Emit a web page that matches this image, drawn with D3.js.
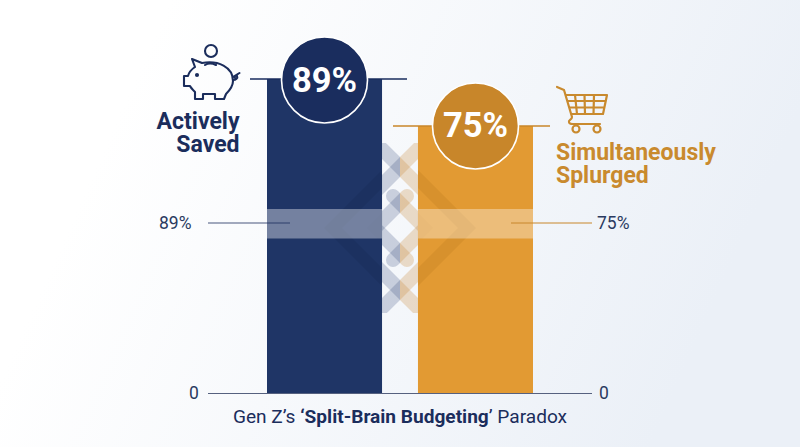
<!DOCTYPE html>
<html><head><meta charset="utf-8">
<script src="https://cdn.jsdelivr.net/npm/d3@7/dist/d3.min.js"></script>
<style>html,body{margin:0;padding:0;background:#fff}svg{display:block}text{font-family:Roboto,sans-serif}</style>
</head><body><svg id="c" width="800" height="447"></svg>
<script>
const categories = ["Actively Saved", "Simultaneously Splurged"];
const values = [89, 75];
const valueLabels = ["89%", "75%"];
const zeroLabel = "0";

const NAVY = "#1f3566", NAVY_D = "#1a2d5e", ORANGE = "#e29a33", ORANGE_D = "#c8862a", BLUE_T = "#1b2d5c", OR_T = "#c98a2e";

const svg = d3.select("#c");
const defs = svg.append("defs");
const bg = defs.append("linearGradient").attr("id", "bg").attr("x1", 0).attr("y1", 0).attr("x2", 1).attr("y2", 0.25);
bg.append("stop").attr("offset", "20%").attr("stop-color", "#ffffff");
bg.append("stop").attr("offset", "100%").attr("stop-color", "#ebf0f7");
svg.append("rect").attr("width", 800).attr("height", 447).attr("fill", "url(#bg)");

const x = d3.scaleBand().domain(categories).range([267, 533]).paddingInner(0.238).paddingOuter(0);
const base = 393.5;
const yL = d3.scaleLinear().domain([0, 89]).range([base, 79]);
const yR = d3.scaleLinear().domain([0, 75]).range([base, 126]);
const yOf = i => (i === 0 ? yL : yR)(values[i]);

const bw = x.bandwidth();
const colors = [NAVY, ORANGE];
const dark = [NAVY_D, ORANGE_D];
const lx = x(categories[0]), rx = x(categories[1]);
const cx = (lx + bw + rx) / 2, cy = 228;

svg.selectAll("rect.bar").data(values).join("rect").attr("class", "bar")
  .attr("x", (d, i) => x(categories[i])).attr("width", bw)
  .attr("y", (d, i) => yOf(i)).attr("height", (d, i) => base - yOf(i)).attr("fill", (d, i) => colors[i]);

function clip(id, a, b, t, h) {
  defs.append("clipPath").attr("id", id).append("rect").attr("x", a).attr("y", t).attr("width", b - a).attr("height", h);
}
clip("gl", lx + bw, cx, 143, 170);
clip("gr", cx, rx, 143, 170);
clip("bl", lx, lx + bw, 150, 160);
clip("br", rx, rx + bw, 150, 160);
clip("bandL", lx, lx + bw, 209, 29.5);
clip("bandR", rx, rx + bw, 209, 29.5);

const line = d3.line();
const crossings = [167, 203, 253, 290];
function lattice(parent, color, op) {
  const g = parent.append("g").attr("fill", "none").attr("stroke", color).attr("stroke-opacity", op).attr("stroke-width", 14);
  [[crossings[0], 30, 30], [crossings[3], 30, 30]].forEach(([c, up, dn]) => {
    g.append("path").attr("d", line([[cx - up, c - up], [cx + dn, c + dn]]));
    g.append("path").attr("d", line([[cx + up, c - up], [cx - dn, c + dn]]));
  });
  [[crossings[1], 1], [crossings[2], -1]].forEach(([c, s]) => {
    [-1, 1].forEach(h => {
      const round = [cx + h * 7, c - s * 7];
      const far = [cx - h * 22, c + s * 22];
      g.append("path").attr("d", line([round, far])).attr("stroke-linecap", "round");
    });
  });
}
lattice(svg.append("g").attr("clip-path", "url(#gl)"), "#2b4070", 0.22);
lattice(svg.append("g").attr("clip-path", "url(#gr)"), "#c98a3a", 0.27);

function chevron(clipId, apexX, dir, color, op, w, reach) {
  svg.append("g").attr("clip-path", `url(#${clipId})`).append("path")
    .attr("d", line([[apexX + dir * reach, cy - reach], [apexX, cy], [apexX + dir * reach, cy + reach]]))
    .attr("fill", "none").attr("stroke", color).attr("stroke-opacity", op).attr("stroke-width", w).attr("stroke-linejoin", "miter");
}
chevron("bl", 333, 1, "#13234a", 0.2, 12.7, 70);
chevron("br", 467, -1, "#b8761f", 0.26, 12.7, 70);
chevron("bandL", 376, 1, "#13234a", 0.1, 12.7, 30);
chevron("bandR", 424, -1, "#b8761f", 0.1, 12.7, 30);

[0, 1].forEach(i => svg.append("rect").attr("x", x(categories[i])).attr("width", bw).attr("y", 209).attr("height", 29.5)
  .attr("fill", "#fff").attr("fill-opacity", i === 0 ? 0.38 : 0.35));

svg.append("line").attr("x1", 208).attr("x2", 290).attr("y1", 223).attr("y2", 223).attr("stroke", BLUE_T).attr("stroke-width", 1).attr("stroke-opacity", .8);
svg.append("line").attr("x1", 511).attr("x2", 592).attr("y1", 223).attr("y2", 223).attr("stroke", ORANGE_D).attr("stroke-width", 1);

svg.append("line").attr("x1", 250).attr("x2", 407).attr("y1", yOf(0)).attr("y2", yOf(0)).attr("stroke", NAVY_D).attr("stroke-width", 1.6);
svg.append("line").attr("x1", 393).attr("x2", 550).attr("y1", yOf(1)).attr("y2", yOf(1)).attr("stroke", ORANGE_D).attr("stroke-width", 1.6);

svg.append("line").attr("x1", 208).attr("x2", 592).attr("y1", base).attr("y2", base).attr("stroke", "#56617f").attr("stroke-width", 1.2);

const cX = i => x(categories[i]) + bw / 2;
svg.selectAll("circle.v").data(values).join("circle").attr("class", "v")
  .attr("cx", (d, i) => cX(i)).attr("cy", (d, i) => yOf(i) + (i === 0 ? 1 : 0)).attr("r", 43)
  .attr("fill", (d, i) => dark[i]).attr("stroke", "#fff").attr("stroke-width", 1.6);
svg.selectAll("text.v").data(valueLabels).join("text").attr("class", "v")
  .attr("x", (d, i) => cX(i)).attr("y", (d, i) => yOf(i) + (i === 0 ? 12.5 : 11)).attr("text-anchor", "middle")
  .attr("fill", "#fff").attr("font-size", 34.5).attr("font-weight", 700).text(d => d);

function label(t, px, py, anchor, size, fill, w) {
  return svg.append("text").attr("x", px).attr("y", py).attr("text-anchor", anchor).attr("font-size", size).attr("fill", fill).attr("font-weight", w || 400).text(t);
}
const words = categories.map(c => c.split(" "));
label(words[0][0], 239.5, 129, "end", 23, BLUE_T, 700);
label(words[0][1], 239.5, 152, "end", 23, BLUE_T, 700);
label(words[1][0], 556, 160, "start", 23, OR_T, 700);
label(words[1][1], 556, 183, "start", 23, OR_T, 700);

label(valueLabels[0], 159, 229, "start", 17.5, "#2a3a60");
label(valueLabels[1], 597, 229, "start", 17.5, "#2a3a60");
label(zeroLabel, 189, 399, "start", 17.5, "#2a3a60");
label(zeroLabel, 599, 399, "start", 17.5, "#2a3a60");

const t = svg.append("text").attr("x", 400).attr("y", 423).attr("text-anchor", "middle").attr("font-size", 19.1).attr("fill", BLUE_T);
t.append("tspan").text("Gen Z\u2019s ");
t.append("tspan").attr("font-weight", 700).text("\u2018Split-Brain Budgeting");
t.append("tspan").text("\u2019 Paradox");

const pig = svg.append("g").attr("fill", "none").attr("stroke", BLUE_T).attr("stroke-width", 2.1).attr("stroke-linejoin", "round").attr("stroke-linecap", "round");
pig.append("circle").attr("cx", 211).attr("cy", 51).attr("r", 6);
pig.append("path").attr("d", "M192 59 L202 63 C218 60 233 67 233 81 C233 87 229 91 226 94 L224 99 H215 V94 H203 V99 H195 V92 C193 90 191 88 190 86 H184 V76 H188 C189 72 192 69 195 67 Z");
pig.append("path").attr("d", "M205 65 C208 63 212 63 216 65");
pig.append("path").attr("d", "M233 77 C236 75 238 74 239.5 73 M233 80 C236 80 238 78 237 76 C236 75 234 76 235 78");
pig.append("circle").attr("cx", 197).attr("cy", 75).attr("r", 1).attr("fill", BLUE_T);

const cart = svg.append("g").attr("fill", "none").attr("stroke", OR_T).attr("stroke-width", 2.2).attr("stroke-linejoin", "round").attr("stroke-linecap", "round");
cart.append("path").attr("d", "M557 87 L564 90 L572 117 C572 120 568 120 569 122 C569 124 571 124 573 124 H600");
cart.append("path").attr("d", "M566 95 H607 L603 114 H572 M568 101 H605.5 M570 107.5 H604 M575 95 L577 114 M584.5 95 L585 114 M594 95 L593.5 114");
cart.append("circle").attr("cx", 576).attr("cy", 129).attr("r", 3.5);
cart.append("circle").attr("cx", 597).attr("cy", 129).attr("r", 3.5);
</script></body></html>
